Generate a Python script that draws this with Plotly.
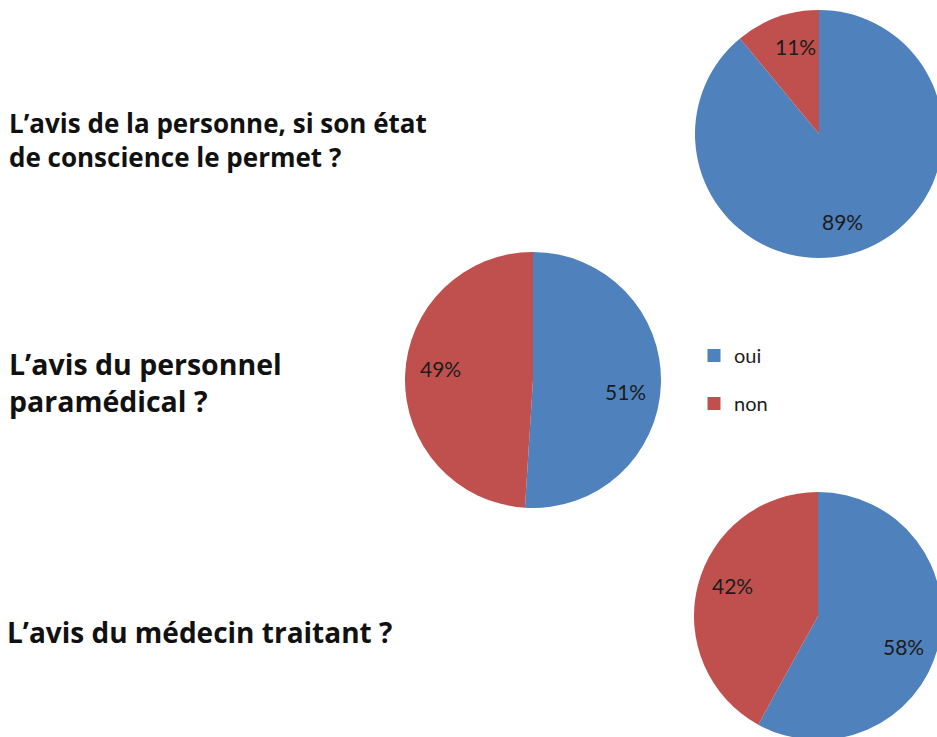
import math
import plotly.graph_objects as go

# ---- data ----
answers = ["oui", "non"]
questions = [
    "L’avis de la personne, si son état<br>de conscience le permet ?",
    "L’avis du personnel<br>paramédical ?",
    "L’avis du médecin traitant ?",
]
pie_personne = [89, 11]
pie_paramedical = [51, 49]
pie_medecin = [58, 42]
colors = ["#4F81BD", "#C0504D"]

# ---- layout helpers (pixels -> paper) ----
W, H = 960, 760
LABEL_ANGLE_SHIFT = math.radians(5)


def dom(cx, cy, r):
    return dict(x=[(cx - r) / W, (cx + r) / W], y=[1 - (cy + r) / H, 1 - (cy - r) / H])


# (values, centre x, centre y, radius, question, font size, text x, text centre y)
pies = [
    (pie_personne, 819, 134, 124, questions[0], 26, 7, 140),
    (pie_paramedical, 533, 380, 128, questions[1], 28.5, 7, 383),
    (pie_medecin, 818, 616, 124, questions[2], 28, 5, 632),
]

fig = go.Figure()
annotations = []
for vals, cx, cy, r, q, fs, qx, qy in pies:
    fig.add_trace(go.Pie(
        labels=answers, values=vals, sort=False, direction="clockwise", rotation=0,
        marker=dict(colors=colors, line=dict(width=0)),
        textinfo="none", showlegend=False, domain=dom(cx, cy, r),
        hoverinfo="label+percent",
    ))
    total = sum(vals)
    start = 0.0
    for v in vals:
        frac = v / total
        mid = (start + frac / 2) * 2 * math.pi + LABEL_ANGLE_SHIFT
        start += frac
        d = 0.73 * r
        px = cx + math.sin(mid) * d
        py = cy - math.cos(mid) * d
        annotations.append(dict(
            x=px / W, y=1 - py / H, xref="paper", yref="paper",
            xanchor="center", yanchor="middle",
            text=f"{round(100 * frac)}%", showarrow=False,
            font=dict(size=21, color="#1c1c1c", family="Lato"),
        ))
    annotations.append(dict(
        x=qx / W, y=1 - qy / H, xref="paper", yref="paper",
        xanchor="left", yanchor="middle",
        text=f"<b>{q}</b>", showarrow=False, align="left",
        font=dict(size=fs, color="#111111", family="Open Sans"),
    ))

for name, col in zip(answers, colors):
    fig.add_trace(go.Scatter(
        x=[None], y=[None], mode="markers", name=name, legendgroup=name,
        marker=dict(symbol="square", size=13, color=col),
    ))

fig.update_layout(
    width=W, height=H, margin=dict(l=0, r=0, t=0, b=0),
    paper_bgcolor="white", plot_bgcolor="white",
    xaxis=dict(visible=False), yaxis=dict(visible=False),
    annotations=annotations,
    legend=dict(x=694 / W, y=1 - 336 / H, xanchor="left", yanchor="top",
                font=dict(size=20, color="#1c1c1c", family="Lato"),
                tracegroupgap=19, traceorder="grouped", bgcolor="rgba(0,0,0,0)"),
)

fig.write_html("out.html", config={"displayModeBar": False},
               post_script="document.body.style.margin='0';document.body.style.overflow='hidden';")
